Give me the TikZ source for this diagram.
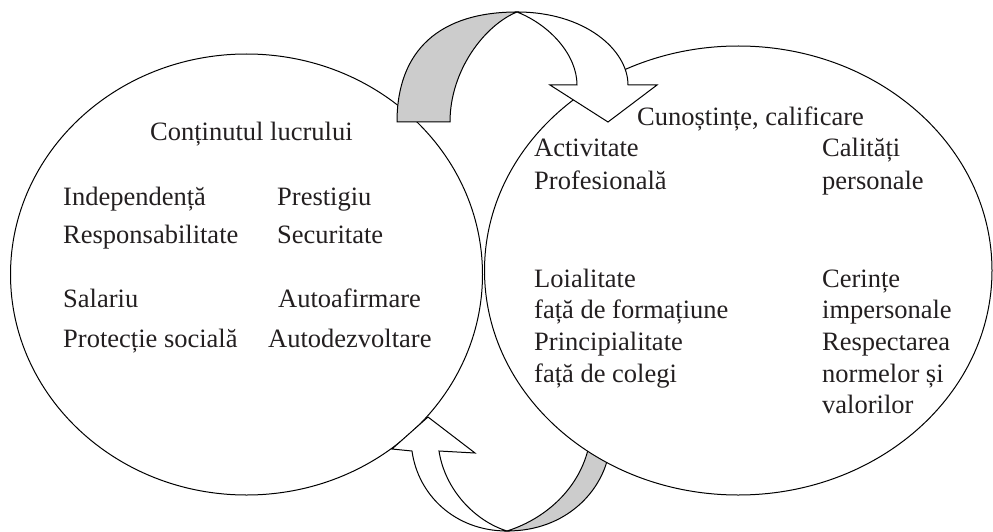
\documentclass[tikz,border=0pt]{standalone}
\usepackage{fontspec}
\setmainfont{Liberation Serif}
\usetikzlibrary{shapes.geometric}
\definecolor{textcol}{RGB}{35,31,32}
\definecolor{bandgray}{RGB}{204,204,204}
\begin{document}
\begin{tikzpicture}[x=1pt,y=-1pt,
  circ/.style={draw, ellipse, fill=white, line width=1pt, inner sep=0pt, outer sep=0pt},
  band/.style={draw, line width=1pt, line join=miter},
  txt/.style={anchor=base west, inner sep=0pt, text=textcol, font=\fontsize{26.5}{32}\selectfont}]
\useasboundingbox (0,0) rectangle (993,532);

% left ellipse
\node[circ, minimum width=472pt, minimum height=441pt] (L) at (246.5,274.5) {};

% bottom arrow (from right ellipse back to left ellipse)
\coordinate (bb) at (507,531);
\draw[band, fill=bandgray] (bb) .. controls (567,531) and (603,490) .. (609,452)
  -- (590,440) .. controls (583,485) and (548,518) .. (bb) -- cycle;
\draw[band, fill=white] (412,451) .. controls (418,495) and (455,531) .. (bb)
  .. controls (475,521) and (445,490) .. (439,451)
  -- (475,453) -- (428,417) -- (392,449) -- cycle;

% right ellipse
\node[circ, minimum width=507.5pt, minimum height=449pt] (R) at (738.25,270.5) {};

% top arrow (from left ellipse to right ellipse)
\coordinate (tt) at (517,12);
\draw[band, fill=bandgray] (397,122) .. controls (397,50) and (440,12) .. (tt)
  .. controls (485,25) and (450,70) .. (450,122) -- cycle;
\draw[band, fill=white] (tt) .. controls (585,12) and (628,50) .. (628,85)
  -- (657,85) -- (608,122) -- (550,85) -- (577,85)
  .. controls (577,55) and (550,25) .. (tt) -- cycle;

% left texts
\node[txt] (l0) at (150,141) {Conținutul lucrului};
\node[txt] (l1) at (63,205) {Independență};
\node[txt] (l2) at (63,243) {Responsabilitate};
\node[txt] (l3) at (63,307) {Salariu};
\node[txt] (l4) at (63,347) {Protecție socială};
\node[txt] (l5) at (277,205) {Prestigiu};
\node[txt] (l6) at (277,243) {Securitate};
\node[txt] (l7) at (278,307) {Autoafirmare};
\node[txt] (l8) at (268,347) {Autodezvoltare};

% right texts
\node[txt] (r0) at (637,125) {Cunoștințe, calificare};
\node[txt] (r1) at (534,157) {Activitate};
\node[txt] (r2) at (534,189) {Profesională};
\node[txt] (r3) at (822,157) {Calități};
\node[txt] (r4) at (822,189) {personale};
\node[txt] (r5) at (534,287) {Loialitate};
\node[txt] (r6) at (534,318) {față de formațiune};
\node[txt] (r7) at (534,350) {Principialitate};
\node[txt] (r8) at (534,382) {față de colegi};
\node[txt] (r9) at (822,287) {Cerințe};
\node[txt] (r10) at (822,318) {impersonale};
\node[txt] (r11) at (822,350) {Respectarea};
\node[txt] (r12) at (822,382) {normelor și};
\node[txt] (r13) at (822,413) {valorilor};
\end{tikzpicture}
\end{document}
